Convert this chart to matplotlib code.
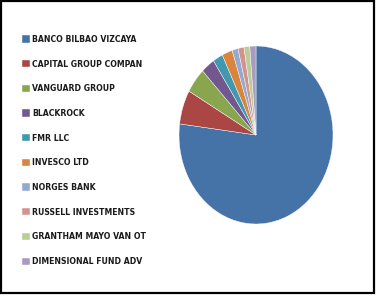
import matplotlib.pyplot as plt
from matplotlib.patches import Rectangle
from matplotlib import font_manager

names = ['BANCO BILBAO VIZCAYA', 'CAPITAL GROUP COMPAN', 'VANGUARD GROUP', 'BLACKROCK',
         'FMR LLC', 'INVESCO LTD', 'NORGES BANK', 'RUSSELL INVESTMENTS',
         'GRANTHAM MAYO VAN OT', 'DIMENSIONAL FUND ADV']
shares = [77.0, 6.2, 4.6, 2.9, 2.1, 2.2, 1.25, 1.25, 1.2, 1.3]
colors = ['#4572A7', '#AA4643', '#89A54E', '#71588F', '#4198AF',
          '#DB843D', '#93A9CF', '#D19392', '#B9CD96', '#A99BBD']

W, H = 382, 298
fig = plt.figure(figsize=(W / 100, H / 100), dpi=100)

# pie is drawn slightly stretched vertically, like the original
cx, cy, rx, ry = 256, 135, 77, 89
ax = fig.add_axes([(cx - rx) / W, (H - cy - ry) / H, 2 * rx / W, 2 * ry / H])
wedges, _ = ax.pie(shares, colors=colors, startangle=90, counterclock=False,
                   wedgeprops=dict(edgecolor='white', linewidth=0.3))
ax.set_aspect('auto')
ax.set_xlim(-1, 1)
ax.set_ylim(-1, 1)

fp = font_manager.FontProperties(family='DejaVu Sans', stretch='condensed',
                                 weight='bold', size=6.2)
leg = fig.legend(wedges, names, loc='upper left', bbox_to_anchor=(22 / W, 1 - 35 / H),
                 frameon=False, handlelength=0.9, handleheight=0.9, handletextpad=0.25,
                 labelspacing=1.82, borderpad=0, borderaxespad=0, prop=fp)
for t in leg.get_texts():
    t.set_color('#1a1a1a')

fig.patches.append(Rectangle((1 / W, 5 / H), 373 / W, 292 / H, transform=fig.transFigure,
                             fill=False, edgecolor='black', linewidth=1.6))

fig.savefig('out.png', dpi=100)
